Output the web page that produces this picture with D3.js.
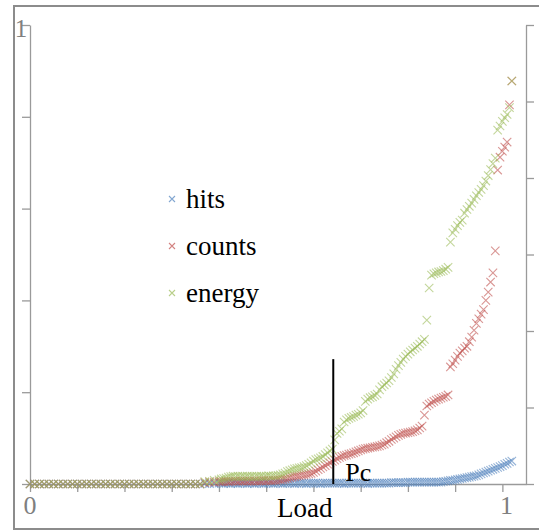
<!DOCTYPE html>
<html>
<head>
<meta charset="utf-8">
<script src="https://cdn.jsdelivr.net/npm/d3@7"></script>
<style>
  body { margin: 0; background: #fff; }
  svg { display: block; }
  text { font-family: "Liberation Serif", "Times New Roman", serif; }
</style>
</head>
<body>
<svg id="chart" width="539" height="531"></svg>
<script>
// normalised load (shared by every series)
const load = [
  0.00, 0.01, 0.02, 0.03, 0.04, 0.05, 0.06, 0.07, 0.08, 0.09,
  0.10, 0.11, 0.12, 0.13, 0.14, 0.15, 0.16, 0.17, 0.18, 0.19,
  0.20, 0.21, 0.22, 0.23, 0.24, 0.25, 0.26, 0.27, 0.28, 0.29,
  0.30, 0.31, 0.32, 0.33, 0.34, 0.35, 0.36, 0.37, 0.38, 0.39, 0.40,
  0.405, 0.41, 0.415, 0.42, 0.425, 0.43, 0.435, 0.44, 0.445, 0.45,
  0.455, 0.46, 0.465, 0.47, 0.475, 0.48, 0.485, 0.49, 0.495, 0.50,
  0.505, 0.51, 0.515, 0.52, 0.525, 0.53, 0.535, 0.54, 0.545, 0.55,
  0.555, 0.56, 0.565, 0.57, 0.575, 0.58, 0.585, 0.59, 0.595, 0.60,
  0.605, 0.61, 0.615, 0.62, 0.625, 0.63, 0.635, 0.64, 0.645, 0.65,
  0.655, 0.66, 0.665, 0.67, 0.675, 0.68, 0.685, 0.69, 0.695, 0.70,
  0.705, 0.71, 0.715, 0.72, 0.725, 0.73, 0.735, 0.74, 0.745, 0.75,
  0.755, 0.76, 0.765, 0.77, 0.775, 0.78, 0.785, 0.79, 0.795, 0.80,
  0.805, 0.81, 0.815, 0.82, 0.825, 0.83, 0.835, 0.84, 0.845, 0.85,
  0.855, 0.86, 0.865, 0.87, 0.875, 0.88, 0.885, 0.89, 0.895, 0.90,
  0.905, 0.91, 0.915, 0.92, 0.925, 0.93, 0.935, 0.94, 0.945, 0.95,
  0.955, 0.96, 0.965, 0.97, 0.975, 0.98, 0.985, 0.99, 0.995, 1.00,
  1.005, 1.01, 1.015, 1.02
]

const hits = [
  0, 0, 0, 0, 0, 0, 0, 0, 0, 0,
  0, 0, 0, 0, 0, 0, 0, 0, 0, 0,
  0, 0, 0, 0, 0, 0, 0, 0, 0, 0,
  0, 0, 0, 0, 0, 0, 0, 0.001, 0.001, 0.001, 0.002,
  0.002, 0.001, 0.002, 0.002, 0.001, 0.002, 0.002, 0.001, 0.002, 0.002,
  0.002, 0.001, 0.002, 0.002, 0.001, 0.002, 0.002, 0.002, 0.001, 0.002,
  0.002, 0.002, 0.001, 0.002, 0.002, 0.002, 0.001, 0.002, 0.002, 0.002,
  0.002, 0.001, 0.002, 0.002, 0.002, 0.002, 0.001, 0.002, 0.002, 0.002,
  0.002, 0.002, 0.001, 0.002, 0.002, 0.002, 0.002, 0.002, 0.002, 0.002,
  0.002, 0.002, 0.001, 0.002, 0.002, 0.002, 0.002, 0.002, 0.002, 0.002,
  0.002, 0.002, 0.001, 0.002, 0.002, 0.002, 0.002, 0.002, 0.002, 0.002,
  0.002, 0.002, 0.003, 0.003, 0.003, 0.003, 0.003, 0.003, 0.003, 0.004,
  0.004, 0.004, 0.004, 0.004, 0.004, 0.004, 0.004, 0.004, 0.004, 0.004,
  0.004, 0.004, 0.004, 0.004, 0.005, 0.006, 0.007, 0.008, 0.008, 0.009,
  0.010, 0.011, 0.012, 0.013, 0.014, 0.015, 0.016, 0.017, 0.018, 0.020,
  0.022, 0.024, 0.026, 0.028, 0.030, 0.032, 0.034, 0.036, 0.038, 0.040,
  0.043, 0.045, 0.048, 0.050
]

const counts = [
  0, 0, 0, 0, 0, 0, 0, 0, 0, 0,
  0, 0, 0, 0, 0, 0, 0, 0, 0, 0,
  0, 0, 0, 0, 0, 0, 0, 0, 0, 0,
  0, 0, 0, 0, 0, 0, 0, 0.003, 0.004, 0.004, 0.005,
  0.005, 0.005, 0.006, 0.005, 0.006, 0.006, 0.007, 0.006, 0.007, 0.006,
  0.007, 0.006, 0.007, 0.006, 0.007, 0.006, 0.007, 0.007, 0.008, 0.007,
  0.008, 0.007, 0.008, 0.008, 0.009, 0.009, 0.010, 0.011, 0.012, 0.014,
  0.015, 0.016, 0.017, 0.018, 0.019, 0.020, 0.021, 0.022, 0.023, 0.025,
  0.028, 0.031, 0.034, 0.037, 0.040, 0.043, 0.046, 0.049, 0.052, 0.055,
  0.058, 0.060, 0.062, 0.063, 0.065, 0.066, 0.068, 0.070, 0.072, 0.074,
  0.076, 0.077, 0.078, 0.079, 0.080, 0.081, 0.082, 0.083, 0.085, 0.087,
  0.090, 0.093, 0.097, 0.100, 0.103, 0.106, 0.108, 0.110, 0.111, 0.112,
  0.113, 0.114, 0.116, 0.118, 0.122, 0.126, 0.150, 0.170, 0.174, 0.177,
  0.180, 0.183, 0.185, 0.187, 0.189, 0.191, 0.194, 0.255, 0.262, 0.270,
  0.278, 0.285, 0.290, 0.296, 0.300, 0.310, 0.320, 0.335, 0.350, 0.360,
  0.370, 0.380, 0.400, 0.418, 0.440, 0.460, 0.508, 0.684, 0.712, 0.725,
  0.734, 0.745, 0.826, 0.878
]

const energy = [
  0, 0, 0, 0, 0, 0, 0, 0, 0, 0,
  0, 0, 0, 0, 0, 0, 0, 0, 0, 0,
  0, 0, 0, 0, 0, 0, 0, 0, 0, 0,
  0, 0, 0, 0, 0, 0, 0, 0.005, 0.006, 0.008, 0.009,
  0.011, 0.012, 0.013, 0.015, 0.016, 0.017, 0.016, 0.017, 0.016, 0.017,
  0.016, 0.017, 0.016, 0.017, 0.016, 0.017, 0.016, 0.017, 0.016, 0.017,
  0.018, 0.017, 0.018, 0.018, 0.019, 0.020, 0.022, 0.024, 0.027, 0.029,
  0.031, 0.033, 0.034, 0.035, 0.036, 0.038, 0.040, 0.043, 0.046, 0.050,
  0.053, 0.055, 0.057, 0.060, 0.064, 0.068, 0.072, 0.076, 0.096, 0.110,
  0.115, 0.120, 0.135, 0.140, 0.143, 0.145, 0.147, 0.150, 0.152, 0.155,
  0.160, 0.180, 0.185, 0.188, 0.190, 0.193, 0.196, 0.205, 0.212, 0.216,
  0.220, 0.225, 0.232, 0.240, 0.250, 0.258, 0.265, 0.272, 0.278, 0.283,
  0.288, 0.292, 0.296, 0.300, 0.305, 0.310, 0.315, 0.357, 0.427, 0.455,
  0.458, 0.460, 0.462, 0.463, 0.465, 0.468, 0.472, 0.527, 0.547, 0.555,
  0.563, 0.570, 0.575, 0.590, 0.598, 0.605, 0.612, 0.620, 0.628, 0.635,
  0.642, 0.650, 0.660, 0.672, 0.685, 0.698, 0.710, 0.771, 0.780, 0.790,
  0.798, 0.805, 0.820, 0.878
]

const seriesNames = ['hits', 'counts', 'energy']
const seriesColors = ['#4f81bd', '#c0504d', '#9bbb59']
const xTicks = [0, 0.1, 0.2, 0.3, 0.4, 0.5, 0.6, 0.7, 0.8, 0.9, 1.0]
const yTicks = [0, 0.2, 0.4, 0.6, 0.8, 1.0]
const y2Ticks = [0, 1, 2, 3, 4, 5, 6]
const pcLoad = 0.642
const pcTop = 0.272

const svg = d3.select('#chart')
const gray = '#9a9a9a'

// outer frame
svg.append('rect')
  .attr('x', 14).attr('y', 6)
  .attr('width', 540).attr('height', 523)
  .attr('fill', 'none')
  .attr('stroke', '#8c8c8c')
  .attr('stroke-width', 2)

const x = d3.scaleLinear().domain([0, 1.05]).range([30, 526])
const y = d3.scaleLinear().domain([0, 1]).range([484, 25])
const y2 = d3.scaleLinear().domain([0, 6]).range([484, 25])

function styleAxis (g) {
  g.selectAll('path.domain').attr('stroke', gray).attr('stroke-width', 1.3)
  g.selectAll('.tick line').attr('stroke', gray).attr('stroke-width', 1.3)
  g.selectAll('.tick text').remove()
}

svg.append('g')
  .attr('transform', 'translate(0,484)')
  .call(d3.axisBottom(x).tickValues(xTicks).tickSize(8).tickSizeOuter(0).tickFormat(''))
  .call(styleAxis)

svg.append('g')
  .attr('transform', 'translate(30,0)')
  .call(d3.axisLeft(y).tickValues(yTicks).tickSize(8).tickSizeOuter(0).tickFormat(''))
  .call(styleAxis)

svg.append('g')
  .attr('transform', 'translate(526,0)')
  .call(d3.axisRight(y2).tickValues(y2Ticks).tickSize(8).tickSizeOuter(0).tickFormat(''))
  .call(styleAxis)

// axis labels
svg.append('text').attr('x', x(0)).attr('y', 514)
  .attr('text-anchor', 'middle').attr('font-size', 26).attr('fill', '#7f7f7f').text('0')
svg.append('text').attr('x', x(1) + 4).attr('y', 514)
  .attr('text-anchor', 'middle').attr('font-size', 26).attr('fill', '#7f7f7f').text('1')
svg.append('text').attr('x', 21).attr('y', y(1) + 12)
  .attr('text-anchor', 'middle').attr('font-size', 25).attr('fill', '#7f7f7f').text('1')
svg.append('text').attr('x', 277).attr('y', 517)
  .attr('font-size', 27).attr('fill', '#000').text('Load')

// markers
const cross = 'M-4.2,-4.2L4.2,4.2M-4.2,4.2L4.2,-4.2'
const seriesData = [hits, counts, energy]

seriesData.forEach((vals, i) => {
  svg.append('g')
    .attr('class', seriesNames[i])
    .selectAll('path')
    .data(vals)
    .join('path')
    .attr('transform', (d, j) => `translate(${x(load[j])},${y(d)})`)
    .attr('d', cross)
    .attr('fill', 'none')
    .attr('stroke', seriesColors[i])
    .attr('stroke-width', 1.1)
    .attr('stroke-opacity', 0.6)
})

// Pc marker line
svg.append('line')
  .attr('x1', x(pcLoad)).attr('x2', x(pcLoad))
  .attr('y1', y(0)).attr('y2', y(pcTop))
  .attr('stroke', '#000').attr('stroke-width', 2)
svg.append('text').attr('x', x(pcLoad) + 12).attr('y', 481)
  .attr('font-size', 26).attr('fill', '#000').text('Pc')

// legend
const legend = svg.append('g')
seriesNames.forEach((name, i) => {
  const ly = 199 + i * 47
  legend.append('path')
    .attr('transform', `translate(172,${ly})`)
    .attr('d', 'M-3,-3L3,3M-3,3L3,-3')
    .attr('fill', 'none')
    .attr('stroke', seriesColors[i])
    .attr('stroke-width', 1.1)
    .attr('stroke-opacity', 0.7)
  legend.append('text')
    .attr('x', 186).attr('y', ly + 9)
    .attr('font-size', 27).attr('fill', '#000')
    .text(name)
})
</script>
</body>
</html>
